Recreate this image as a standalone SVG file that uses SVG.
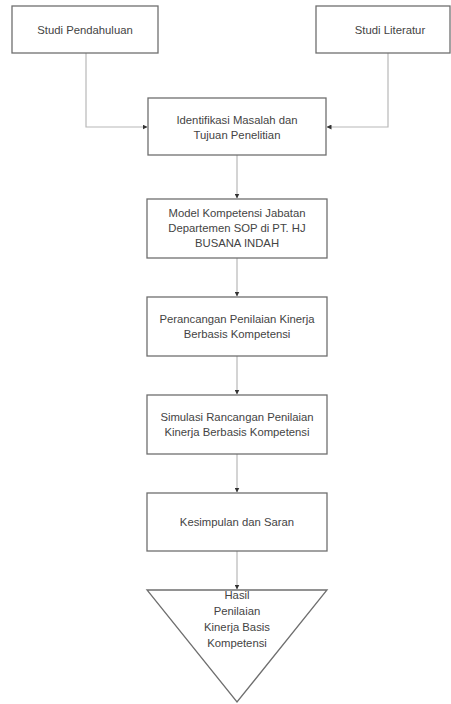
<svg xmlns="http://www.w3.org/2000/svg" width="451" height="704" viewBox="0 0 451 704">
<style>
.box{fill:#fff;stroke:#6f6f6f;stroke-width:1.3}
.t{font-family:"Liberation Sans",Arial,sans-serif;font-size:11.3px;fill:#444;text-anchor:middle;dominant-baseline:middle}
.c{fill:none;stroke:#b8b8b8;stroke-width:1.2}
</style>
<defs>
<marker id="ah" markerWidth="5" markerHeight="5" refX="4.5" refY="2.5" orient="auto" markerUnits="userSpaceOnUse">
<path d="M0,0 L5,2.5 L0,5 Z" fill="#333"/>
</marker>
</defs>
<rect width="451" height="704" fill="#fff"/>
<g id="connectors">
<path class="c" d="M86,53 V127 H147" marker-end="url(#ah)"/>
<path class="c" d="M388,53 V127 H327" marker-end="url(#ah)"/>
<path class="c" d="M237,155 V198" marker-end="url(#ah)"/>
<path class="c" d="M237,258 V296" marker-end="url(#ah)"/>
<path class="c" d="M237,356 V394" marker-end="url(#ah)"/>
<path class="c" d="M237,454 V492" marker-end="url(#ah)"/>
<path class="c" d="M237,551 V589" marker-end="url(#ah)"/>
</g>
<g id="n1">
<rect class="box" x="12" y="6" width="146" height="47"/>
<text class="t" x="85" y="31">Studi Pendahuluan</text>
</g>
<g id="n2">
<rect class="box" x="316" y="6" width="134" height="47"/>
<text class="t" x="390" y="31">Studi Literatur</text>
</g>
<g id="n3">
<rect class="box" x="148" y="98" width="178" height="57"/>
<text class="t" x="237" y="121">Identifikasi Masalah dan</text>
<text class="t" x="237" y="136">Tujuan Penelitian</text>
</g>
<g id="n4">
<rect class="box" x="147" y="199" width="180" height="59"/>
<text class="t" x="237" y="214">Model Kompetensi Jabatan</text>
<text class="t" x="237" y="229">Departemen SOP di PT. HJ</text>
<text class="t" x="237" y="244">BUSANA INDAH</text>
</g>
<g id="n5">
<rect class="box" x="147" y="297" width="180" height="59"/>
<text class="t" x="237" y="320">Perancangan Penilaian Kinerja</text>
<text class="t" x="237" y="335">Berbasis Kompetensi</text>
</g>
<g id="n6">
<rect class="box" x="147" y="395" width="180" height="59"/>
<text class="t" x="237" y="418">Simulasi Rancangan Penilaian</text>
<text class="t" x="237" y="433">Kinerja Berbasis Kompetensi</text>
</g>
<g id="n7">
<rect class="box" x="147" y="493" width="180" height="58"/>
<text class="t" x="237" y="523">Kesimpulan dan Saran</text>
</g>
<g id="n8">
<path class="box" d="M147,590 H327 L237,702 Z"/>
<text class="t" x="237" y="596">Hasil</text>
<text class="t" x="237" y="612">Penilaian</text>
<text class="t" x="237" y="628">Kinerja Basis</text>
<text class="t" x="237" y="644">Kompetensi</text>
</g>
</svg>
